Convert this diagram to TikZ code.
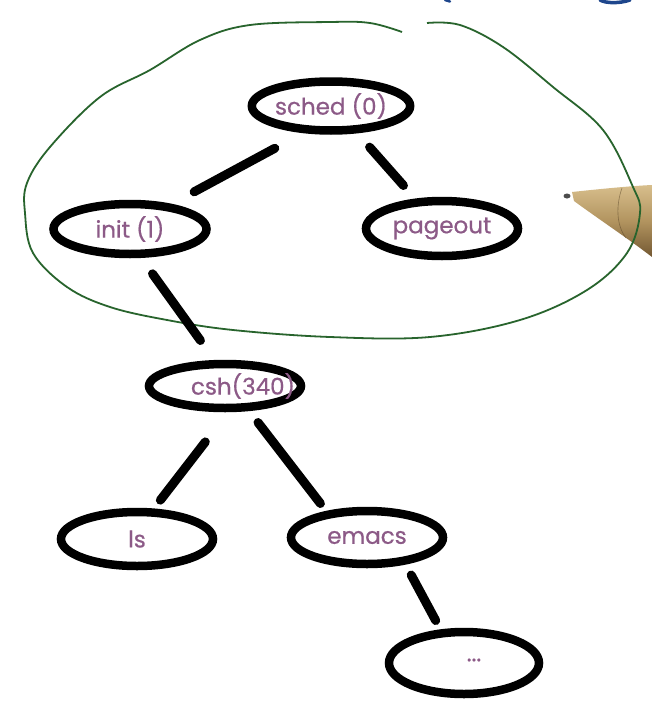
\documentclass[tikz,border=0pt]{standalone}
\usepackage{fontspec}
\setmainfont{Poppins}[FakeBold=0.6]
\usetikzlibrary{shapes.geometric}
\definecolor{inkpurple}{RGB}{140,90,135}
\definecolor{loopgreen}{RGB}{40,100,45}
\definecolor{penblue}{RGB}{30,70,140}
\definecolor{goldlight}{RGB}{215,190,140}
\definecolor{goldmid}{RGB}{178,148,95}
\definecolor{golddark}{RGB}{115,88,50}
\tikzset{
  tnode/.style={draw=black, line width=8.5pt, ellipse, inner sep=0pt, fill=white,
                text=inkpurple, font=\fontsize{23}{26}\selectfont},
  tlabel/.style={text=inkpurple, font=\fontsize{23}{26}\selectfont, inner sep=0pt},
  edge/.style={draw=black, line width=9pt, line cap=round},
  loopline/.style={draw=loopgreen, line width=1.8pt},
}
\begin{document}
\begin{tikzpicture}[x=1pt, y=-1pt]
\useasboundingbox (0,0) rectangle (652,720);
\fill[white] (0,0) rectangle (652,720);

% partial handwriting at the top edge
\draw[penblue, line width=2.5pt, line cap=round] (445,0) -- (450,1.5);
\draw[penblue, line width=3.5pt, line cap=round] (600,0) .. controls (606,3.5) and (620,3.5) .. (630,0);

% pen
\shade[top color=goldlight, bottom color=golddark, middle color=goldmid]
  (572,192) .. controls (600,189) and (630,186) .. (652,185)
  -- (652,257) .. controls (630,240) and (600,220) .. (574,201) -- cycle;
\draw[golddark!70!black, line width=0.6pt, opacity=0.5] (622,188) .. controls (616,205) and (616,225) .. (626,238);
\fill[gray!60!black] (567,196) ellipse (3.5pt and 2.5pt);

% green loop
\draw[loopline] plot[smooth, tension=0.6] coordinates {
  (402,32) (370,23) (330,22) (250,25) (200,40) (150,70) (100,97) (50,147)
  (27,183) (25,213) (33,253) (67,287) (110,307) (167,320) (233,330)
  (330,337) (430,337) (520,320) (587,290) (627,253) (640,213) (633,187)
  (603,130) (553,87) (503,47) (460,25) (427,23)};

% nodes
\node[tnode, minimum width=155pt, minimum height=49pt] (sched) at (331,106) {sched (0)};
\node[tnode, minimum width=153pt, minimum height=50pt] (init) at (130,229) {init (1)};
\node[tnode, minimum width=152pt, minimum height=55pt] (pageout) at (442,228.5) {pageout};
\node[tnode, minimum width=152pt, minimum height=44pt] (csh) at (225,386) {};
\node[tlabel] (cshtext) at (243,386) {csh(340)};
\node[tnode, minimum width=152pt, minimum height=54pt] (ls) at (137,539) {ls};
\node[tnode, minimum width=152pt, minimum height=53pt] (emacs) at (367,537.5) {emacs};
\node[tnode, minimum width=150pt, minimum height=62pt] (dots) at (464,663) {};
\node[tlabel] (dotstext) at (474,660) {...};

% connectors
\draw[edge, shorten <=32pt, shorten >=25.5pt] (sched.224) -- (init.31);
\draw[edge, shorten <=18.5pt, shorten >=17.5pt] (sched.314) -- (pageout.132);
\draw[edge, shorten <=19.5pt, shorten >=24pt] (init.291) -- (csh.112);
\draw[edge, shorten <=37.5pt, shorten >=10.5pt] (csh.277) -- (ls.61);
\draw[edge, shorten <=14.5pt, shorten >=9.5pt] (csh.314) -- (emacs.147);
\draw[edge, shorten <=12pt, shorten >=10pt] (emacs.325) -- (dots.125);
\end{tikzpicture}
\end{document}
